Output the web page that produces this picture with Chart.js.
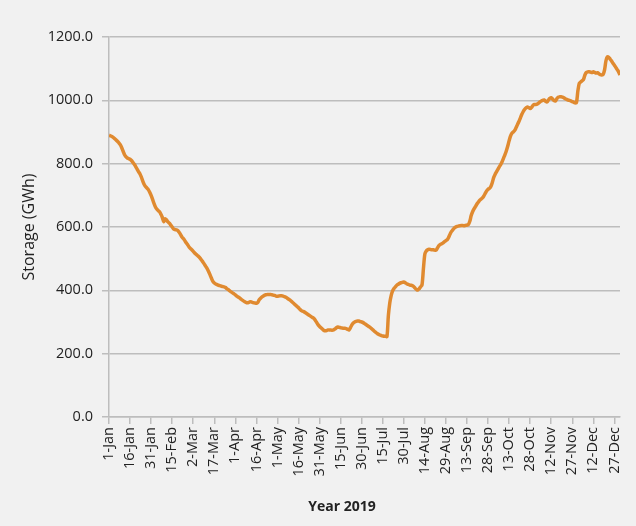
<!DOCTYPE html>
<html>
<head>
<meta charset="utf-8">
<script src="https://cdn.jsdelivr.net/npm/chart.js@4.4.1/dist/chart.umd.min.js"></script>
<style>
    html, body { margin: 0; padding: 0; background: #f1f1f1; }
    #wrap { width: 636px; height: 526px; position: relative; }
</style>
</head>
<body>
<div id="wrap"><canvas id="storage-chart"></canvas></div>
<script>
// Tick labels, every 15th day of 2019
const tickLabels = ['1-Jan', '16-Jan', '31-Jan', '15-Feb', '2-Mar', '17-Mar', '1-Apr', '16-Apr', '1-May',
    '16-May', '31-May', '15-Jun', '30-Jun', '15-Jul', '30-Jul', '14-Aug', '29-Aug', '13-Sep', '28-Sep',
    '13-Oct', '28-Oct', '12-Nov', '27-Nov', '12-Dec', '27-Dec'];

// Daily storage (GWh), one row per 15 days
const storage = [
    890, 888, 886, 883, 879, 875, 871, 866, 860, 851, 840, 829, 822, 818, 816,
    814, 810, 804, 798, 791, 783, 775, 768, 758, 746, 735, 728, 723, 718, 710,
    700, 688, 675, 664, 657, 652, 648, 640, 630, 617, 626, 622, 616, 612, 606,
    600, 594, 592, 591, 589, 583, 576, 568, 563, 557, 550, 544, 537, 532, 528,
    523, 518, 514, 510, 506, 501, 495, 489, 482, 475, 468, 459, 449, 438, 428,
    423, 420, 418, 416, 415, 413, 412, 411, 409, 405, 402, 398, 395, 392, 389,
    386, 382, 379, 376, 372, 369, 366, 363, 361, 361, 363, 364, 362, 361, 360,
    359, 362, 370, 375, 379, 382, 385, 386, 387, 387, 387, 386, 385, 384, 382,
    381, 382, 383, 383, 382, 380, 378, 375, 372, 369, 365, 361, 357, 353, 349,
    345, 340, 336, 334, 332, 329, 326, 323, 320, 317, 314, 311, 305, 298, 291,
    286, 282, 278, 274, 272, 273, 275, 275, 275, 274, 275, 278, 282, 284, 283,
    282, 281, 280, 280, 279, 277, 275, 282, 291, 297, 300, 302, 303, 303, 301,
    300, 298, 295, 292, 289, 286, 283, 279, 275, 271, 267, 264, 261, 259, 257,
    256, 255, 255, 254, 320, 360, 383, 398, 406, 411, 416, 419, 422, 424, 425,
    426, 424, 421, 419, 417, 416, 415, 412, 407, 403, 401, 405, 411, 418, 470,
    515, 524, 528, 530, 529, 528, 528, 527, 527, 534, 541, 545, 547, 550, 554,
    557, 560, 568, 578, 586, 592, 597, 600, 602, 603, 604, 605, 605, 604, 605,
    606, 608, 618, 636, 648, 657, 664, 672, 678, 684, 688, 692, 698, 706, 714,
    719, 722, 728, 740, 756, 766, 774, 782, 790, 797, 806, 817, 828, 840, 855,
    872, 887, 896, 900, 905, 914, 924, 933, 944, 955, 964, 971, 976, 979, 977,
    974, 978, 984, 987, 987, 988, 991, 995, 998, 1000, 1001, 997, 995, 1001, 1006,
    1008, 1004, 999, 998, 1005, 1010, 1011, 1011, 1010, 1008, 1005, 1003, 1001, 1000, 998,
    996, 994, 992, 993, 1030, 1054, 1058, 1062, 1066, 1080, 1088, 1090, 1090, 1089, 1088,
    1090, 1088, 1086, 1087, 1084, 1081, 1080, 1082, 1096, 1125, 1137, 1136, 1130, 1124, 1117,
    1111, 1104, 1097, 1090, 1080
];

const yTicks = [0, 200, 400, 600, 800, 1000, 1200];

const FONT = "'Open Sans', sans-serif";
const GRID = '#bdbdbd';

// x title is not centred on the plot area in the original, so draw it here
const xTitlePlugin = {
    id: 'xTitle',
    afterDraw(chart) {
        const ctx = chart.ctx;
        ctx.save();
        ctx.font = "bold 14px 'Open Sans', sans-serif";
        ctx.fillStyle = '#222';
        ctx.textAlign = 'center';
        ctx.textBaseline = 'middle';
        ctx.fillText('Year 2019', 342, 507);
        ctx.restore();
    }
};

const ctx = document.getElementById('storage-chart').getContext('2d');
new Chart(ctx, {
    type: 'line',
    data: {
        datasets: [{
            label: 'Storage',
            data: storage.map((v, i) => ({ x: i, y: v })),
            borderColor: '#e08a30',
            borderWidth: 3.5,
            pointRadius: 0,
            tension: 0.3,
            fill: false
        }]
    },
    options: {
        responsive: true,
        maintainAspectRatio: false,
        animation: false,
        layout: { padding: { left: 0, right: 16, top: 37, bottom: 0 } },
        plugins: {
            legend: { display: false },
            tooltip: { enabled: false }
        },
        scales: {
            x: {
                type: 'linear',
                min: 0,
                max: storage.length - 1,
                afterBuildTicks: axis => {
                    axis.ticks = tickLabels.map((_, i) => ({ value: i * 15 }));
                },
                afterFit: scale => { scale.height = 109; },
                grid: { drawOnChartArea: false, drawTicks: true, tickLength: 7, color: GRID, lineWidth: 1.5 },
                border: { display: true, color: GRID, width: 1.5 },
                ticks: {
                    autoSkip: false,
                    minRotation: 90,
                    maxRotation: 90,
                    padding: 3,
                    color: '#222',
                    font: { family: FONT, size: 14.5 },
                    callback: value => tickLabels[Math.round(value / 15)]
                }
            },
            y: {
                min: 0,
                max: 1200,
                afterBuildTicks: axis => {
                    axis.ticks = yTicks.map(v => ({ value: v }));
                },
                afterFit: scale => { scale.width = 109; },
                grid: { drawTicks: true, tickLength: 7, color: GRID, lineWidth: 1.5 },
                border: { display: true, color: GRID, width: 1.5 },
                ticks: {
                    padding: 9,
                    color: '#222',
                    font: { family: FONT, size: 14.5 },
                    callback: value => value.toFixed(1)
                },
                title: {
                    display: true,
                    text: 'Storage (GWh)',
                    color: '#222',
                    font: { family: FONT, size: 16 },
                    padding: { top: 20, bottom: 0 }
                }
            }
        }
    },
    plugins: [xTitlePlugin]
});
</script>
</body>
</html>
